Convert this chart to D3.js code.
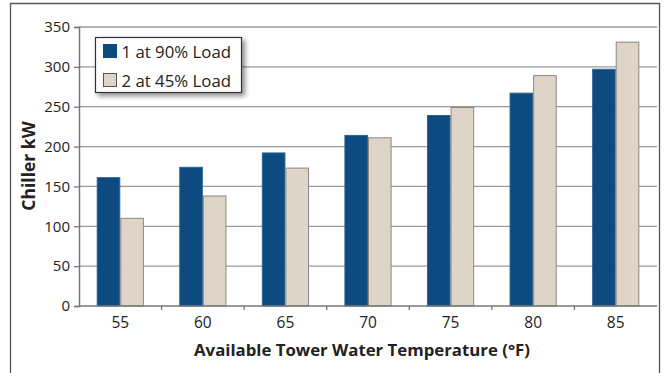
<!DOCTYPE html>
<html>
<head>
<meta charset="utf-8">
<script src="https://cdn.jsdelivr.net/npm/d3@7/dist/d3.min.js"></script>
<style>
  html, body { margin: 0; padding: 0; background: #fff; }
  svg text { font-family: "Open Sans", Lato, sans-serif; fill: #222; }
</style>
</head>
<body>
<svg id="chart" width="666" height="373"></svg>
<script>
// Chiller power draw by available tower water temperature
const temperatures = ["55", "60", "65", "70", "75", "80", "85"];
const seriesNames = ["1 at 90% Load", "2 at 45% Load"];
const oneAt90 = [161, 174, 192, 214, 239, 267, 297];
const twoAt45 = [110, 138, 173, 211, 249, 289, 331];
const yTicks = [0, 50, 100, 150, 200, 250, 300, 350];

const colors = ["#0d4a80", "#ded5c8"];
const strokes = ["#2f6396", "#8c8880"];

const svg = d3.select("#chart");
const margin = { left: 79, right: 9, top: 27, bottom: 67 };
const W = 666, H = 373;

const defs = svg.append("defs");
const shadow = defs.append("filter").attr("id", "shadow")
  .attr("x", "-20%").attr("y", "-30%").attr("width", "150%").attr("height", "170%");
shadow.append("feDropShadow").attr("dx", 3).attr("dy", 3)
  .attr("stdDeviation", 2.5).attr("flood-color", "#000").attr("flood-opacity", 0.45);

// outer frame (open at bottom edge of the page)
svg.append("path")
  .attr("d", `M10.5,${H} V3.5 H659.5 V${H}`)
  .attr("fill", "none").attr("stroke", "#555").attr("stroke-width", 1.3);

const x = d3.scaleBand().domain(temperatures)
  .range([margin.left, W - margin.right]);
const x1 = d3.scaleBand().domain([0, 1])
  .range([0, x.bandwidth()]).paddingOuter(0.75).paddingInner(0);
const y = d3.scaleLinear().domain([0, 350])
  .range([H - margin.bottom, margin.top]);

// horizontal gridlines
svg.append("g").selectAll("line").data(yTicks.filter(d => d > 0)).join("line")
  .attr("x1", margin.left).attr("x2", W - margin.right)
  .attr("y1", d => y(d)).attr("y2", d => y(d))
  .attr("stroke", "#9a9a9a").attr("stroke-width", 1.3);

// bars
const rows = temperatures.map((t, i) => ({ t, vals: [oneAt90[i], twoAt45[i]] }));
const groups = svg.append("g").selectAll("g").data(rows).join("g")
  .attr("transform", d => `translate(${x(d.t)},0)`);
groups.selectAll("rect").data(d => d.vals.map((v, k) => ({ v, k }))).join("rect")
  .attr("x", d => x1(d.k) + 0.5)
  .attr("width", x1.bandwidth() - 1)
  .attr("y", d => y(d.v))
  .attr("height", d => y(0) - y(d.v))
  .attr("fill", d => colors[d.k])
  .attr("stroke", d => strokes[d.k])
  .attr("stroke-width", 1);

// y axis
const yAxis = svg.append("g")
  .attr("transform", `translate(${margin.left},0)`)
  .call(d3.axisLeft(y).tickValues(yTicks).tickSize(5).tickPadding(4));
yAxis.select(".domain").attr("stroke", "#777").attr("stroke-width", 1.5);
yAxis.selectAll(".tick line").attr("stroke", "#777").attr("stroke-width", 1.3);
yAxis.selectAll("text").attr("font-size", 15).style("fill", "#222");

// x axis with ticks on category boundaries
const xAxisG = svg.append("g").attr("transform", `translate(0,${y(0)})`);
xAxisG.append("line")
  .attr("x1", margin.left).attr("x2", W - margin.right)
  .attr("stroke", "#777").attr("stroke-width", 1.5);
const bounds = temperatures.map(t => x(t)).concat([x.range()[1]]);
xAxisG.selectAll("line.b").data(bounds.slice(1, -1)).join("line").attr("class", "b")
  .attr("x1", d => d).attr("x2", d => d).attr("y1", 0).attr("y2", 4)
  .attr("stroke", "#777").attr("stroke-width", 1.3);
xAxisG.selectAll("text").data(temperatures).join("text")
  .attr("x", d => x(d) + x.bandwidth() / 2).attr("y", 22)
  .attr("text-anchor", "middle").attr("font-size", 15.5).text(d => d);

// axis titles
svg.append("text")
  .attr("x", 362).attr("y", 356).attr("text-anchor", "middle")
  .attr("font-size", 16.8).attr("font-weight", "bold")
  .text("Available Tower Water Temperature (°F)");
svg.append("text")
  .attr("transform", `translate(35,166) rotate(-90)`)
  .attr("text-anchor", "middle")
  .attr("font-size", 17.5).attr("font-weight", "bold")
  .text("Chiller kW");

// legend
const lg = svg.append("g").attr("transform", "translate(95.5,37.5)");
lg.append("rect").attr("width", 146).attr("height", 55)
  .attr("fill", "#fff").attr("stroke", "#333").attr("stroke-width", 1.2)
  .attr("filter", "url(#shadow)");
seriesNames.forEach((name, k) => {
  const row = lg.append("g").attr("transform", `translate(8,${7 + k * 29})`);
  row.append("rect").attr("width", 13).attr("height", 13)
    .attr("fill", colors[k]).attr("stroke", k ? "#555" : colors[k]).attr("stroke-width", 1);
  row.append("text").attr("x", 18).attr("y", 13)
    .attr("font-size", 16.8).text(name);
});
</script>
</body>
</html>
